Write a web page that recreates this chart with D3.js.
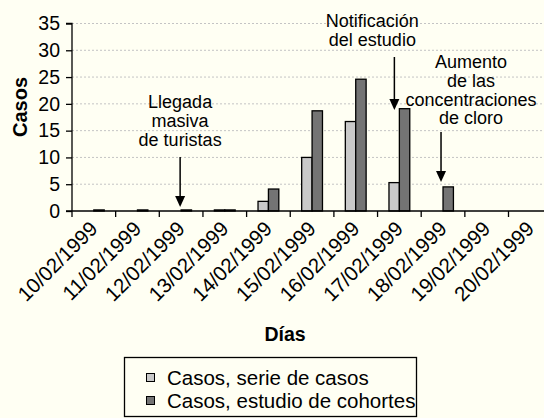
<!DOCTYPE html>
<html>
<head>
<meta charset="utf-8">
<script src="https://cdn.jsdelivr.net/npm/d3@7"></script>
<style>
  html, body { margin: 0; padding: 0; background: #fffff3; }
  svg { display: block; }
  text { font-family: "Liberation Sans", Arial, Helvetica, sans-serif; fill: #000; }
</style>
</head>
<body>
<svg id="chart" width="544" height="418"></svg>
<script>
const categories = ["10/02/1999","11/02/1999","12/02/1999","13/02/1999","14/02/1999","15/02/1999","16/02/1999","17/02/1999","18/02/1999","19/02/1999","20/02/1999"];
const serieCasos = [0, 0, 0, 0.2, 1.8, 10, 16.7, 5.3, 0, 0, 0];
const cohortes   = [0.2, 0.2, 0.2, 0.2, 4.1, 18.7, 24.6, 19.1, 4.5, 0, 0];
const yTicks = [0, 5, 10, 15, 20, 25, 30, 35];
const seriesNames = ["Casos, serie de casos", "Casos, estudio de cohortes"];
const seriesColors = ["#c9c9c9", "#747474"];
const annotations = [
  { cat: "12/02/1999", lines: ["Llegada", "masiva", "de turistas"] },
  { cat: "17/02/1999", lines: ["Notificación", "del estudio"] },
  { cat: "18/02/1999", lines: ["Aumento", "de las", "concentraciones", "de cloro"] }
];

const svg = d3.select("#chart");
const x0 = 72, bandW = 43.65;
const x = d3.scaleBand().domain(categories).range([x0, x0 + bandW * categories.length]).padding(0);
const y = d3.scaleLinear().domain([0, 35]).range([211, 23.5]);
const xs = d3.scaleBand().domain([0, 1]).range([-10.4, 10.4]);

// gridlines
svg.append("g").selectAll("line").data(yTicks.filter(d => d > 0)).join("line")
  .attr("x1", x0).attr("x2", 544)
  .attr("y1", d => y(d)).attr("y2", d => y(d))
  .attr("stroke", "#c4c4c4").attr("stroke-width", 1).attr("stroke-dasharray", "2,2");

// bars
const data = categories.map((c, i) => ({ c, v: [serieCasos[i], cohortes[i]] }));
const groups = svg.append("g").selectAll("g").data(data).join("g")
  .attr("transform", d => `translate(${x(d.c) + x.bandwidth() / 2},0)`);
groups.selectAll("rect").data(d => d.v.map((v, k) => ({ v, k })).filter(e => e.v > 0)).join("rect")
  .attr("x", e => xs(e.k)).attr("width", xs.bandwidth())
  .attr("y", e => y(e.v)).attr("height", e => y(0) - y(e.v))
  .attr("fill", e => seriesColors[e.k]).attr("stroke", "#000").attr("stroke-width", 1.3);

// y axis
const yAxis = svg.append("g").attr("transform", `translate(${x0},0)`)
  .call(d3.axisLeft(y).tickValues(yTicks).tickSize(6).tickPadding(6));
yAxis.select(".domain").attr("stroke", "#000").attr("stroke-width", 1.3).attr("d", `M-6,${y(35)}H0V${y(0)}`);
yAxis.selectAll(".tick line").attr("stroke", "#000").attr("stroke-width", 1.3);
yAxis.selectAll(".tick text").attr("font-size", 19.5).attr("font-family", "Liberation Sans, Arial, sans-serif");

// x axis
const xAxisG = svg.append("g").attr("transform", `translate(0,${y(0)})`);
xAxisG.append("line").attr("x1", x0 - 6).attr("x2", 544).attr("y1", 0).attr("y2", 0)
  .attr("stroke", "#000").attr("stroke-width", 1.3);
xAxisG.selectAll("line.tk").data(categories).join("line").attr("class", "tk")
  .attr("x1", d => x(d)).attr("x2", d => x(d)).attr("y1", 0).attr("y2", 6)
  .attr("stroke", "#000").attr("stroke-width", 1.3);
xAxisG.selectAll("text").data(categories).join("text")
  .attr("transform", d => `translate(${x(d) + x.bandwidth() / 2 + 5},${19}) rotate(-45)`)
  .attr("text-anchor", "end").attr("font-size", 20.5).text(d => d);

// axis titles
svg.append("text").attr("x", 285).attr("y", 341).attr("text-anchor", "middle")
  .attr("font-size", 19.5).attr("font-weight", "bold").text("Días");
svg.append("text").attr("transform", `translate(27,107) rotate(-90)`).attr("text-anchor", "middle")
  .attr("font-size", 20).attr("font-weight", "bold").text("Casos");

// annotations
const annoPos = {
  "12/02/1999": { dx: -1, top: 108, a1: 157, a2: 207 },
  "17/02/1999": { dx: -5, top: 27, a1: 57, a2: 110 },
  "18/02/1999": { dx: -2, top: 68, a1: 132, a2: 182 }
};
const textCenters = { "12/02/1999": 0, "17/02/1999": -22, "18/02/1999": 30 };
annotations.forEach(a => {
  const p = annoPos[a.cat];
  const ax = x(a.cat) + x.bandwidth() / 2 + p.dx;
  const t = svg.append("text").attr("text-anchor", "middle").attr("font-size", 18);
  a.lines.forEach((ln, i) => {
    t.append("tspan").attr("x", ax + textCenters[a.cat]).attr("y", p.top + i * 18.8).text(ln);
  });
  svg.append("line").attr("x1", ax).attr("x2", ax).attr("y1", p.a1).attr("y2", p.a2 - 10)
    .attr("stroke", "#000").attr("stroke-width", 1.5);
  svg.append("path").attr("d", `M${ax - 5},${p.a2 - 11}L${ax + 5},${p.a2 - 11}L${ax},${p.a2}Z`).attr("fill", "#000");
});

// legend
const lg = svg.append("g");
lg.append("rect").attr("x", 124.5).attr("y", 357.5).attr("width", 292).attr("height", 59)
  .attr("fill", "none").attr("stroke", "#000").attr("stroke-width", 1.3);
seriesNames.forEach((n, i) => {
  const yy = 378 + i * 23;
  lg.append("rect").attr("x", 146.5).attr("y", yy - 4.5).attr("width", 8).attr("height", 8)
    .attr("fill", seriesColors[i]).attr("stroke", "#000").attr("stroke-width", 1);
  lg.append("text").attr("x", 167).attr("y", yy + 7).attr("font-size", 20.5).text(n);
});
</script>
</body>
</html>
